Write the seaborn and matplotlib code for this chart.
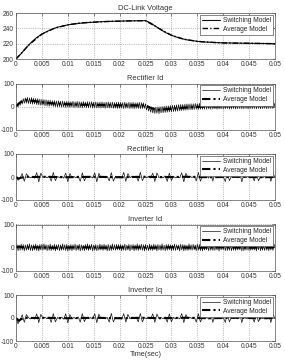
import numpy as np
import pandas as pd
import matplotlib
matplotlib.use("Agg")
import matplotlib.pyplot as plt
import seaborn as sns

# ---------------- data ----------------
titles = ["DC-Link Voltage", "Rectifier Id", "Rectifier Iq", "Inverter Id", "Inverter Iq"]
labels = ["Switching Model", "Average Model"]
x_ticks = [0, 0.005, 0.01, 0.015, 0.02, 0.025, 0.03, 0.035, 0.04, 0.045, 0.05]
x_ticklabels = ["0", "0.005", "0.01", "0.015", "0.02", "0.025", "0.03", "0.035", "0.04", "0.045", "0.05"]
y_ticks_v = [200, 220, 240, 260]
y_ticks_i = [-100, 0, 100]

# DC link voltage, switching model (t step 0.001)
t_vdc_sw = [round(0.001 * i, 4) for i in range(51)]
vdc_sw = [200, 207, 215, 222, 228, 232.5, 236, 239, 241.5, 243, 244.5, 245.5, 246.3, 247, 247.6,
          248, 248.5, 248.8, 249, 249.2, 249.4, 249.6, 249.7, 249.8, 250, 250, 247, 242.5, 238, 234,
          231, 228.5, 226.5, 225, 224, 223, 222.4, 222, 221.6, 221.3, 221, 220.9, 220.8, 220.7, 220.6,
          220.5, 220.4, 220.3, 220.2, 220.1, 220]
# DC link voltage, average model (t step 0.0025)
t_vdc_av = [round(0.0025 * i, 4) for i in range(21)]
vdc_av = [200, 218.5, 232.5, 240.3, 244.5, 247.1, 248, 248.9, 249.4, 249.75, 250, 240.2, 231,
          225.7, 223, 221.8, 221, 220.7, 220.5, 220.2, 220]

# switching model d-axis currents (t step 0.0002)
t_sw_d = [round(0.0002 * i, 5) for i in range(251)]
rect_id_sw = [0, 12, -2, 20, 5, 28, 10, 34, 14, 38,
              14, 40, 13, 37, 12, 39, 10, 36, 11, 35,
              8, 34, 7, 32, 5, 31, 6, 30, 3, 29,
              2, 28, 1, 27, 3, 25, 0, 26, -1, 24,
              -2, 25, -1, 23, -3, 24, -2, 22, -4, 23,
              -3, 22, -4, 21, -2, 23, -5, 20, -3, 22,
              -5, 21, -4, 20, -6, 22, -3, 19, -5, 21,
              -6, 20, -4, 21, -7, 19, -5, 20, -6, 18,
              -5, 19, -7, 20, -6, 18, -8, 19, -6, 20,
              -7, 18, -6, 19, -8, 17, -7, 18, -9, 19,
              -8, 18, -7, 17, -9, 19, -8, 16, -7, 18,
              -9, 17, -8, 18, -10, 16, -8, 17, -9, 18,
              -10, 17, -9, 16, -8, 12, -15, 5, -20, 0,
              -25, -2, -28, -4, -30, -3, -29, -2, -31, -1,
              -28, 0, -27, 1, -26, 2, -25, 3, -24, 4,
              -23, 5, -22, 6, -21, 7, -20, 8, -19, 9,
              -18, 9, -17, 10, -16, 11, -15, 11, -14, 12,
              -14, 12, -13, 13, -12, 12, -13, 14, -12, 13,
              -12, 14, -11, 13, -12, 15, -10, 14, -12, 13,
              -11, 15, -10, 14, -12, 15, -11, 14, -10, 16,
              -11, 15, -10, 16, -9, 14, -11, 15, -10, 16,
              -9, 15, -11, 16, -10, 14, -9, 16, -10, 15,
              -10, 16, -9, 15, -11, 16, -9, 14, -10, 16,
              -9, 15, -10, 16, -8, 15, -10, 17, -9, 15,
              -8, 16, -10, 15, -9, 17, -8, 16, -9, 15,
              5]
inv_id_sw = [0, 12, -14, 10, -12, 15, -11, 13, -15, 11,
             -12, 14, -10, 16, -13, 11, -14, 12, -11, 15,
             -13, 10, -15, 13, -11, 14, -12, 16, -10, 12,
             -14, 11, -12, 15, -13, 10, -11, 14, -15, 12,
             -10, 13, -14, 11, -12, 16, -11, 12, -13, 14,
             -15, 10, -12, 13, -14, 12, -10, 15, -13, 11,
             -11, 14, -15, 12, -12, 10, -14, 13, -11, 16,
             -13, 12, -10, 14, -15, 11, -12, 13, -14, 10,
             -12, 15, -11, 12, -13, 14, -10, 11, -15, 13,
             -14, 10, -13, 16, -11, 12, -12, 14, -10, 13,
             -11, 13, -14, 11, -12, 15, -13, 10, -11, 14,
             -15, 12, -10, 13, -14, 11, -12, 16, -13, 12,
             -10, 14, -12, 12, -15, 13, -11, 10, -14, 15,
             -12, 11, -13, 14, -10, 12, -15, 13, -11, 11,
             -13, 16, -11, 10, -14, 13, -12, 14, -10, 12,
             -14, 11, -12, 15, -13, 12, -10, 11, -15, 14,
             -11, 13, -15, 12, -12, 10, -13, 16, -11, 12,
             -12, 14, -10, 11, -14, 15, -12, 13, -13, 10,
             -15, 12, -11, 14, -10, 13, -14, 11, -12, 15,
             -13, 10, -12, 16, -11, 12, -15, 14, -10, 13,
             -10, 15, -14, 12, -13, 11, -12, 13, -14, 12,
             -12, 11, -13, 15, -11, 14, -10, 12, -15, 11,
             -14, 13, -11, 10, -12, 16, -13, 11, -11, 14,
             -11, 12, -15, 13, -10, 12, -14, 15, -12, 10,
             -13, 14, -12, 11, -14, 13, -11, 12, -13, 15,
             0]

# switching model q-axis currents (t step 0.0004)
t_sw_q = [round(0.0004 * i, 5) for i in range(126)]
rect_iq_sw = [0, -14, -3, 15, -19, 14, 3,
              -4, 2, -5, 19, -21, 17, -2,
              3, -3, 4, -18, 20, -16, 2,
              -2, 4, -5, 17, -20, 15, -3,
              2, -3, 5, -19, 18, -17, 3,
              -3, 2, -4, 18, -21, 16, -2,
              3, -4, 3, -17, 19, -18, 2,
              -2, 3, -5, 20, -19, 15, -3,
              4, -2, 4, -18, 21, -16, 2,
              -3, 3, -4, 17, -20, 18, -2,
              2, -3, 5, -19, 17, -15, 3,
              -4, 2, -3, 18, -21, 16, -2,
              3, -2, 4, -17, 20, -18, 3,
              -3, 4, -5, 19, -18, 17, -2,
              2, -3, 3, -20, 19, -16, 3,
              -2, 3, -4, 18, -21, 15, -3,
              3, -4, 5, -17, 20, -17, 2,
              -3, 2, -4, 19, -19, 16, -2]
inv_iq_sw = [0, -25, -8, 14, -19, 15, 2,
             -4, 3, -5, 18, -20, 16, -2,
             3, -3, 4, -19, 19, -17, 2,
             -2, 4, -5, 18, -21, 15, -3,
             2, -3, 5, -18, 19, -16, 3,
             -3, 2, -4, 19, -20, 17, -2,
             3, -4, 3, -18, 20, -17, 2,
             -2, 3, -5, 19, -18, 16, -3,
             4, -2, 4, -17, 20, -17, 2,
             -3, 3, -4, 18, -19, 17, -2,
             2, -3, 5, -18, 18, -16, 3,
             -4, 2, -3, 19, -20, 15, -2,
             3, -2, 4, -18, 19, -17, 3,
             -3, 4, -5, 18, -19, 16, -2,
             2, -3, 3, -19, 20, -17, 3,
             -2, 3, -4, 17, -20, 16, -3,
             3, -4, 5, -18, 19, -16, 2,
             -3, 2, -4, 18, -20, 17, -2]

# average model currents
t_av = [0, 0.0005, 0.001, 0.002, 0.0035, 0.005, 0.0075, 0.01, 0.0125, 0.015, 0.0175, 0.02, 0.0225,
        0.025, 0.0265, 0.0275, 0.03, 0.0325, 0.035, 0.0375, 0.04, 0.0425, 0.045, 0.0475, 0.05]
rect_id_av = [0, 12, 20, 27, 24, 18, 13, 10, 8, 7, 6, 5, 5, 4, -10, -14, -10, -5, -2, 0, 1, 2, 2, 3, 3]
rect_iq_av = [0, -7, -3, 1, 0, 1, 0, -1, 0, 1, 0, -1, 0, 1, 0, -1, 0, 1, 0, -1, 0, 1, 0, -1, 0]
inv_id_av = [0, 4, 2, 0, 1, 0, -1, 0, 1, 0, -1, 0, 1, 0, -1, 0, 1, 0, -1, 0, 1, 0, -1, 0, 0]
inv_iq_av = [0, -12, -5, 1, 0, 1, 0, -1, 0, 1, 0, -1, 0, 1, 0, -1, 0, 1, 0, -1, 0, 1, 0, -1, 0]

# ---------------- plotting ----------------
sns.set_style("white")
plt.rcParams["font.family"] = ["Liberation Sans", "DejaVu Sans"]

W, H = 285, 362
fig = plt.figure(figsize=(W / 100, H / 100), dpi=100)

panels = [
    (t_vdc_sw, vdc_sw, t_vdc_av, vdc_av, y_ticks_v, (200, 260)),
    (t_sw_d, rect_id_sw, t_av, rect_id_av, y_ticks_i, (-100, 100)),
    (t_sw_q, rect_iq_sw, t_av, rect_iq_av, y_ticks_i, (-100, 100)),
    (t_sw_d, inv_id_sw, t_av, inv_id_av, y_ticks_i, (-100, 100)),
    (t_sw_q, inv_iq_sw, t_av, inv_iq_av, y_ticks_i, (-100, 100)),
]

left_px, width_px, h_px = 16, 259, 46
tops_px = [13, 83.5, 154, 224.5, 295]
fs = 4.8

for k, (ts, ys, ta, ya, yt, ylim) in enumerate(panels):
    top = tops_px[k]
    ax = fig.add_axes([left_px / W, 1 - (top + h_px) / H, width_px / W, h_px / H])
    df_sw = pd.DataFrame({"t": ts, "v": ys})
    df_av = pd.DataFrame({"t": ta, "v": ya})
    sns.lineplot(data=df_sw, x="t", y="v", ax=ax, color="#111111", lw=(0.8 if k == 0 else 0.5),
                 estimator=None, sort=False, label=labels[0])
    sns.lineplot(data=df_av, x="t", y="v", ax=ax, color="black", lw=(1.0 if k == 0 else 1.5),
                 estimator=None, sort=False, label=labels[1], linestyle=(0, (4, 1.5, 1, 1.5)))
    ax.set_xlim(0, 0.05)
    ax.set_ylim(*ylim)
    ax.set_xticks(x_ticks)
    ax.set_xticklabels(x_ticklabels)
    ax.set_yticks(yt)
    ax.set_yticklabels([str(v) for v in yt])
    ax.tick_params(axis="both", labelsize=fs, direction="in", length=2, width=0.4,
                   pad=1.5, colors="#333333", top=True, right=True)
    ax.grid(True, linestyle=":", color="#888888", lw=0.5)
    for s in ax.spines.values():
        s.set_color("#555555")
        s.set_linewidth(0.5)
    ax.set_title(titles[k], fontsize=5.4, pad=2.5, color="#333333")
    ax.set_ylabel("")
    if k == 4:
        ax.set_xlabel("Time(sec)", fontsize=5.2, labelpad=1, color="#333333")
    else:
        ax.set_xlabel("")
    leg = ax.legend(loc="upper right", fontsize=fs, frameon=True, fancybox=False,
                    edgecolor="#555555", framealpha=1, borderpad=0.35, labelspacing=0.25,
                    handlelength=2.6, handletextpad=0.5, borderaxespad=0.25)
    leg.get_frame().set_linewidth(0.5)

fig.savefig("out.png", dpi=100)
